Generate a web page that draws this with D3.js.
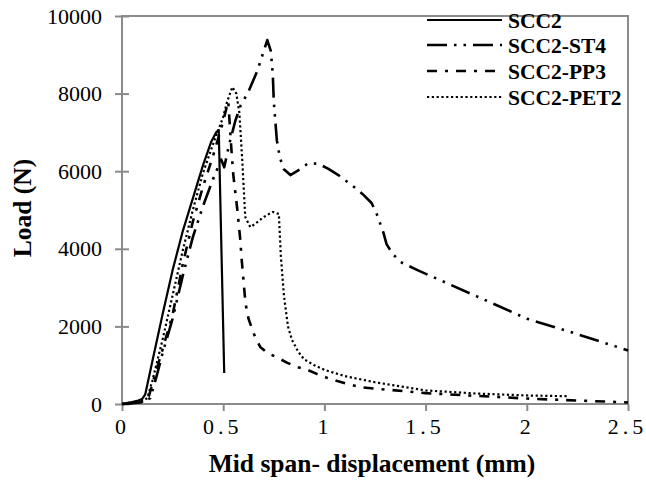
<!DOCTYPE html>
<html>
<head>
<meta charset="utf-8">
<script src="https://cdn.jsdelivr.net/npm/d3@7"></script>
<style>
  body { margin: 0; background: #fff; }
  text { font-family: "Liberation Serif", "Times New Roman", serif; }
</style>
</head>
<body>
<div id="chart"></div>
<script>
// series names (legend order)
var seriesNames = ["SCC2", "SCC2-ST4", "SCC2-PP3", "SCC2-PET2"];

// [displacement (mm), load (N)]
var scc2 = [[0,0],[0.04,40],[0.08,90],[0.1,130],[0.115,250],[0.15,1100],[0.2,2300],[0.25,3450],
  [0.3,4450],[0.35,5300],[0.4,6150],[0.44,6750],[0.465,7000],[0.478,7060],[0.505,800]];

var scc2St4 = [[0,0],[0.05,20],[0.1,50],[0.14,150],[0.17,700],[0.2,1300],[0.25,2200],[0.3,3300],
  [0.35,4300],[0.4,5100],[0.45,5800],[0.49,6300],[0.505,6100],[0.53,6700],[0.56,7300],[0.585,7680],
  [0.624,8040],[0.668,8580],[0.718,9380],[0.735,9100],[0.745,8500],[0.75,7800],[0.765,6800],
  [0.78,6350],[0.8,6050],[0.832,5900],[0.88,6050],[0.921,6210],[0.97,6190],[1.02,6060],[1.069,5900],
  [1.153,5570],[1.193,5390],[1.233,5180],[1.257,4920],[1.292,4410],[1.307,4120],[1.337,3870],
  [1.376,3660],[1.46,3450],[1.75,2780],[2.0,2200],[2.25,1800],[2.5,1380]];

var scc2Pp3 = [[0,0],[0.05,20],[0.1,60],[0.13,150],[0.16,700],[0.2,1400],[0.25,2300],[0.3,3600],
  [0.35,4700],[0.4,5600],[0.45,6400],[0.49,7100],[0.515,7600],[0.525,7800],[0.54,6600],[0.55,5900],
  [0.57,5000],[0.585,4200],[0.59,3800],[0.61,2600],[0.625,2200],[0.645,1900],[0.66,1700],
  [0.683,1470],[0.72,1310],[0.77,1190],[0.817,1060],[0.87,950],[0.916,880],[0.965,770],[1.015,670],
  [1.064,590],[1.114,515],[1.19,425],[1.5,280],[2.0,140],[2.5,40]];

var scc2Pet2 = [[0,0],[0.05,40],[0.1,80],[0.125,150],[0.15,600],[0.2,1650],[0.25,2800],[0.3,3950],
  [0.35,5000],[0.4,5950],[0.45,6700],[0.5,7400],[0.52,7800],[0.545,8170],[0.565,8000],[0.58,7500],
  [0.594,6290],[0.609,4820],[0.634,4560],[0.66,4650],[0.7,4820],[0.745,4950],[0.775,4900],
  [0.785,3800],[0.8,2800],[0.82,2000],[0.84,1650],[0.87,1350],[0.9,1150],[0.95,1000],[1.0,880],
  [1.1,720],[1.25,560],[1.5,350],[1.75,270],[2.0,220],[2.21,200]];

var xTicks = [0, 0.5, 1, 1.5, 2, 2.5];
var yTicks = [0, 2000, 4000, 6000, 8000, 10000];

(function(){
  var width = 646, height = 480;
  var pLeft = 122, pRight = 628, pTop = 16, pBottom = 404;

  var svg = d3.select("#chart").append("svg")
    .attr("width", width)
    .attr("height", height);

  var x = d3.scaleLinear().domain([0, 2.5]).range([pLeft, pRight]);
  var y = d3.scaleLinear().domain([0, 10000]).range([pBottom, pTop]);

  var axisColor = "#8a8a8a";

  // x axis
  var gx = svg.append("g")
    .attr("transform", "translate(0," + pBottom + ")")
    .call(d3.axisBottom(x).tickValues(xTicks).tickSizeInner(7).tickSizeOuter(0).tickPadding(7)
      .tickFormat(function(d) { return String(d); }));
  gx.select(".domain").remove();
  gx.selectAll(".tick line").attr("stroke", axisColor).attr("stroke-width", 2);
  gx.selectAll(".tick text")
    .attr("font-size", 22)
    .attr("font-family", "Liberation Serif, serif")
    .attr("fill", "#000")
    .attr("letter-spacing", function(d) { return d % 1 ? "4px" : null; })
    .attr("dx", function(d) { return d % 1 ? -1 : -2; });

  // y axis, ticks cross the axis line
  var gy = svg.append("g")
    .attr("transform", "translate(" + pLeft + ",0)")
    .call(d3.axisLeft(y).tickValues(yTicks).tickSizeInner(7).tickSizeOuter(0).tickPadding(13)
      .tickFormat(d3.format("d")));
  gy.select(".domain").remove();
  gy.selectAll(".tick line").attr("x1", 7).attr("stroke", axisColor).attr("stroke-width", 2);
  gy.selectAll(".tick text")
    .attr("font-size", 22)
    .attr("font-family", "Liberation Serif, serif")
    .attr("fill", "#000");

  // frame
  svg.append("rect")
    .attr("x", pLeft).attr("y", pTop)
    .attr("width", pRight - pLeft).attr("height", pBottom - pTop)
    .attr("fill", "none")
    .attr("stroke", axisColor)
    .attr("stroke-width", 2);

  var styles = [
    { data: scc2, dash: null, w: 2.2 },
    { data: scc2St4, dash: "20,7,2.5,7,2.5,7", w: 2.6 },
    { data: scc2Pp3, dash: "10,8,3,8", w: 2.6 },
    { data: scc2Pet2, dash: "2.2,2.6", w: 2.2 }
  ];

  var line = d3.line()
    .x(function(d) { return x(d[0]); })
    .y(function(d) { return y(d[1]); });

  svg.selectAll(".series")
    .data(styles)
    .enter().append("path")
    .attr("class", "series")
    .attr("d", function(d) { return line(d.data); })
    .attr("fill", "none")
    .attr("stroke", "#000")
    .attr("stroke-width", function(d) { return d.w; })
    .attr("stroke-dasharray", function(d) { return d.dash; })
    .attr("stroke-linejoin", "round");

  // legend
  var legend = svg.append("g");
  var rowY = [20, 45, 71, 97];
  styles.forEach(function(s, i) {
    legend.append("line")
      .attr("x1", 427).attr("x2", 502)
      .attr("y1", rowY[i]).attr("y2", rowY[i])
      .attr("stroke", "#000")
      .attr("stroke-width", s.w)
      .attr("stroke-dasharray", s.dash);
    legend.append("text")
      .attr("x", 508).attr("y", rowY[i])
      .attr("dy", "0.35em")
      .attr("font-size", 21.5)
      .attr("font-weight", "bold")
      .text(seriesNames[i]);
  });

  // axis titles
  svg.append("text")
    .attr("x", 372).attr("y", 472)
    .attr("text-anchor", "middle")
    .attr("font-size", 25.5)
    .attr("font-weight", "bold")
    .text("Mid span- displacement (mm)");

  svg.append("text")
    .attr("transform", "translate(31,208) rotate(-90)")
    .attr("text-anchor", "middle")
    .attr("font-size", 25.5)
    .attr("font-weight", "bold")
    .text("Load (N)");
})();
</script>
</body>
</html>
